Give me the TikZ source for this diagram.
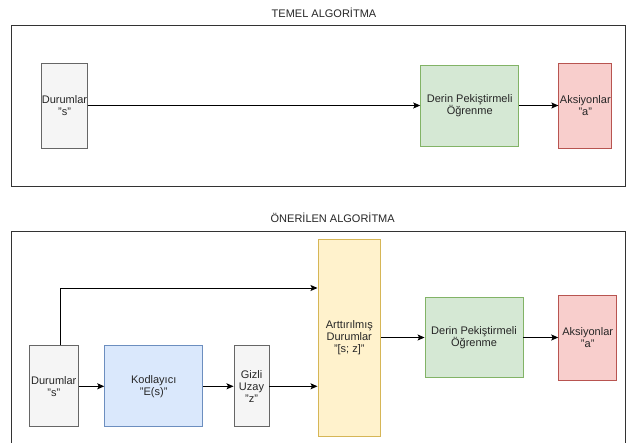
\documentclass[tikz,border=0pt]{standalone}
\usepackage{fontspec}
\setmainfont{Liberation Sans}
\usetikzlibrary{arrows.meta,calc}

\definecolor{txt}{HTML}{262626}
\definecolor{frameC}{HTML}{333333}
\definecolor{grayF}{HTML}{F5F5F5}\definecolor{grayD}{HTML}{666666}
\definecolor{blueF}{HTML}{DAE8FC}\definecolor{blueD}{HTML}{6C8EBF}
\definecolor{greenF}{HTML}{D5E8D4}\definecolor{greenD}{HTML}{82B366}
\definecolor{yelF}{HTML}{FFF2CC}\definecolor{yelD}{HTML}{D6B656}
\definecolor{redF}{HTML}{F8CECC}\definecolor{redD}{HTML}{B85450}

\tikzset{
  box/.style={draw, line width=0.9pt, inner sep=0pt, align=center, text=txt,
    font=\fontsize{11}{12}\selectfont},
  graybox/.style={box, fill=grayF, draw=grayD},
  bluebox/.style={box, fill=blueF, draw=blueD},
  greenbox/.style={box, fill=greenF, draw=greenD},
  yelbox/.style={box, fill=yelF, draw=yelD},
  redbox/.style={box, fill=redF, draw=redD},
  panel/.style={draw=frameC, line width=0.9pt},
  heading/.style={text=txt, font=\fontsize{11}{12}\selectfont, inner sep=0pt},
  arr/.style={draw=black, line width=0.9pt, -{Stealth[length=7pt,width=6pt,inset=1.5pt]}},
}

\begin{document}
\begin{tikzpicture}[x=1pt,y=-1pt]
\useasboundingbox (0,0) rectangle (629,442);
\fill[white] (0,0) rectangle (629,442);

% upper panel: baseline algorithm
\node[heading] (t1) at (324,13) {TEMEL ALGORİTMA};
\draw[panel] (11,25) rectangle (625,186);
\node[graybox, minimum width=45pt, minimum height=85pt] (s1) at (64.5,105.5) {Durumlar\\"s"};
\node[greenbox, minimum width=98pt, minimum height=81pt] (rl1) at (469.7,105.5) {Derin Pekiştirmeli\\Öğrenme};
\node[redbox, minimum width=53pt, minimum height=85pt] (a1) at (585.3,105.5) {Aksiyonlar\\"a"};
\draw[arr] (s1.east) -- (rl1.west);
\draw[arr] (rl1.east) -- (a1.west);

% lower panel: proposed algorithm
\node[heading] (t2) at (332.7,218) {ÖNERİLEN ALGORİTMA};
\draw[panel] (11,231) rectangle (625,450);
\node[graybox, minimum width=49pt, minimum height=81pt] (s2) at (53.8,386.3) {Durumlar\\"s"};
\node[bluebox, minimum width=98pt, minimum height=81pt] (enc) at (153.7,386.3) {Kodlayıcı\\"E(s)"};
\node[graybox, minimum width=35pt, minimum height=81pt] (z) at (251.5,386.3) {Gizli\\Uzay\\"z"};
\node[yelbox, minimum width=62.7pt, minimum height=197pt] (aug) at (349.3,337.5) {Arttırılmış\\Durumlar\\"[s; z]"};
\node[greenbox, minimum width=98pt, minimum height=80pt] (rl2) at (474,337.5) {Derin Pekiştirmeli\\Öğrenme};
\node[redbox, minimum width=58pt, minimum height=85pt] (a2) at (587.7,337.5) {Aksiyonlar\\"a"};
\coordinate (bend) at (60,288);

\draw[arr] (s2.east) -- (enc.west);
\draw[arr] (enc.east) -- (z.west);
\draw[arr] (z.east) -- (z.east -| aug.west);
\draw[arr] (s2.north -| bend) |- (aug.west |- bend);
\draw[arr] (aug.east) -- (rl2.west);
\draw[arr] (rl2.east) -- (a2.west);
\end{tikzpicture}
\end{document}
